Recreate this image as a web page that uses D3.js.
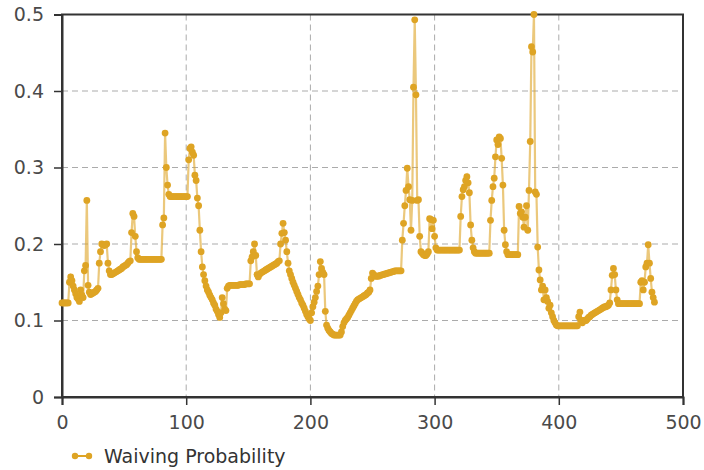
<!DOCTYPE html>
<html>
<head>
<meta charset="utf-8">
<script src="https://cdn.jsdelivr.net/npm/d3@7"></script>
<style>
  body { margin: 0; background: #fff; }
  .tick text { font-family: "DejaVu Sans", Verdana, sans-serif; font-size: 19px; fill: #4a4a4a; }
  .grid line { stroke: #ababab; stroke-dasharray: 6,4; }
</style>
</head>
<body>
<div id="chart"></div>
<script>
// waiving probability, one value per step (x = index)
var waivingProb = [
  .123,.123,.123,.123,.123,.123,.150,.157,.152,.145,
  .140,.135,.130,.128,.125,.140,.133,.130,.165,.172,
  .257,.146,.137,.134,.135,.136,.137,.138,.140,.142,
  .175,.190,.200,.199,.198,.199,.200,.175,.165,.160,
  .160,.161,.162,.163,.164,.165,.166,.167,.168,.170,
  .171,.172,.173,.175,.177,.178,.215,.240,.236,.210,
  .190,.182,.180,.180,.180,.180,.180,.180,.180,.180,
  .180,.180,.180,.180,.180,.180,.180,.180,.180,.180,
  .180,.225,.234,.345,.300,.277,.265,.262,.262,.262,
  .262,.262,.262,.262,.262,.262,.262,.262,.262,.262,
  .262,.262,.310,.325,.327,.320,.316,.290,.283,.260,
  .250,.218,.190,.170,.160,.152,.145,.140,.137,.133,
  .130,.127,.123,.120,.115,.112,.108,.104,.110,.130,
  .122,.115,.113,.142,.145,.146,.146,.146,.146,.146,
  .146,.146,.146,.147,.147,.147,.147,.147,.148,.148,
  .148,.148,.178,.183,.190,.200,.185,.160,.157,.160,
  .162,.163,.164,.165,.166,.167,.168,.169,.170,.171,
  .172,.173,.174,.175,.177,.178,.200,.214,.227,.215,
  .205,.190,.175,.165,.160,.155,.150,.146,.142,.138,
  .134,.130,.127,.123,.120,.116,.112,.108,.105,.102,
  .100,.110,.118,.124,.130,.138,.145,.160,.177,.168,
  .163,.160,.112,.094,.090,.087,.085,.083,.082,.081,
  .081,.081,.081,.081,.081,.085,.092,.097,.100,.102,
  .104,.107,.110,.113,.116,.119,.122,.125,.127,.128,
  .129,.130,.131,.132,.133,.134,.136,.137,.140,.155,
  .162,.160,.158,.158,.158,.158,.159,.159,.160,.160,
  .161,.161,.162,.162,.163,.163,.164,.164,.165,.165,
  .165,.165,.165,.165,.205,.227,.250,.270,.299,.275,
  .258,.218,.257,.405,.493,.395,.257,.258,.210,.190,
  .188,.186,.185,.185,.187,.190,.233,.232,.220,.231,
  .210,.195,.192,.192,.192,.192,.192,.192,.192,.192,
  .192,.192,.192,.192,.192,.192,.192,.192,.192,.192,
  .192,.236,.262,.271,.275,.283,.288,.280,.267,.225,
  .205,.195,.190,.188,.188,.188,.188,.188,.188,.188,
  .188,.188,.188,.188,.188,.231,.257,.275,.286,.314,
  .336,.330,.340,.338,.312,.277,.218,.199,.190,.186,
  .186,.186,.186,.186,.186,.186,.186,.186,.249,.240,
  .242,.235,.222,.235,.250,.218,.270,.334,.458,.451,
  .500,.268,.265,.196,.166,.153,.140,.145,.127,.140,
  .130,.125,.116,.120,.110,.105,.100,.097,.094,.093,
  .093,.093,.093,.093,.093,.093,.093,.093,.093,.093,
  .093,.093,.093,.093,.093,.093,.105,.111,.100,.097,
  .100,.100,.100,.102,.104,.105,.107,.108,.109,.110,
  .111,.112,.113,.114,.115,.116,.117,.118,.118,.119,
  .120,.123,.140,.159,.168,.160,.140,.127,.122,.122,
  .122,.122,.122,.122,.122,.122,.122,.122,.122,.122,
  .122,.122,.122,.122,.122,.122,.150,.152,.140,.150,
  .170,.175,.199,.175,.155,.137,.130,.124
];
var xTicks = [0, 100, 200, 300, 400, 500];
var yTicks = [0, 0.1, 0.2, 0.3, 0.4, 0.5];
var seriesName = "Waiving Probability";

var data = waivingProb.map(function(v, i) { return {x: i, y: v}; });

var fullWidth = 704, fullHeight = 470;
var margin = {top: 14.5, right: 21, bottom: 73, left: 62},
    width = fullWidth - margin.left - margin.right,
    height = fullHeight - margin.top - margin.bottom;

var color = "#dea424";

var xScale = d3.scaleLinear().domain([0, 500]).range([0, width]);
var yScale = d3.scaleLinear().domain([0, 0.5]).range([height, 0]);

var svg = d3.select("#chart").append("svg")
    .attr("width", fullWidth)
    .attr("height", fullHeight)
  .append("g")
    .attr("transform", "translate(" + margin.left + "," + margin.top + ")");

// grid
svg.append("g")
    .attr("class", "grid")
    .selectAll("line")
    .data(yTicks.slice(1, -1))
    .enter().append("line")
    .attr("x1", 0).attr("x2", width)
    .attr("y1", function(d) { return yScale(d); })
    .attr("y2", function(d) { return yScale(d); });

svg.append("g")
    .attr("class", "grid")
    .selectAll("line")
    .data(xTicks.slice(1, -1))
    .enter().append("line")
    .attr("y1", 0).attr("y2", height)
    .attr("x1", function(d) { return xScale(d); })
    .attr("x2", function(d) { return xScale(d); });

// frame
svg.append("rect")
    .attr("width", width)
    .attr("height", height)
    .attr("fill", "none")
    .attr("stroke", "#333")
    .attr("stroke-width", 2);

// axes
var xAxis = d3.axisBottom(xScale).tickValues(xTicks).tickSize(8).tickPadding(11);
var yAxis = d3.axisLeft(yScale).tickValues(yTicks).tickSize(8).tickPadding(10)
    .tickFormat(function(d) { return d === 0 ? "0" : d3.format(".1f")(d); });

svg.append("g")
    .attr("class", "x axis")
    .attr("transform", "translate(0," + height + ")")
    .call(xAxis);

svg.append("g")
    .attr("class", "y axis")
    .call(yAxis);

svg.selectAll(".axis .domain").attr("stroke", "#333").attr("stroke-width", 2);
svg.selectAll(".axis .tick line").attr("stroke", "#333").attr("stroke-width", 1.5);

// series
var line = d3.line()
    .x(function(d) { return xScale(d.x); })
    .y(function(d) { return yScale(d.y); });

svg.append("path")
    .datum(data)
    .attr("fill", "none")
    .attr("stroke", color)
    .attr("stroke-opacity", 0.6)
    .attr("stroke-width", 2.2)
    .attr("d", line);

svg.append("g")
    .selectAll("circle")
    .data(data)
    .enter().append("circle")
    .attr("cx", function(d) { return xScale(d.x); })
    .attr("cy", function(d) { return yScale(d.y); })
    .attr("r", 3.4)
    .attr("fill", color);

// legend
var legend = svg.append("g")
    .attr("transform", "translate(" + (72 - margin.left) + "," + (456 - margin.top) + ")");

legend.append("line")
    .attr("x1", 0).attr("x2", 20)
    .attr("stroke", color).attr("stroke-width", 2);

legend.selectAll("circle")
    .data([3, 17])
    .enter().append("circle")
    .attr("cx", function(d) { return d; })
    .attr("r", 3.2)
    .attr("fill", color);

legend.append("text")
    .attr("x", 32)
    .attr("dy", "0.35em")
    .style("font-family", "'DejaVu Sans', Verdana, sans-serif")
    .style("font-size", "19px")
    .style("fill", "#333")
    .text(seriesName);
</script>
</body>
</html>
